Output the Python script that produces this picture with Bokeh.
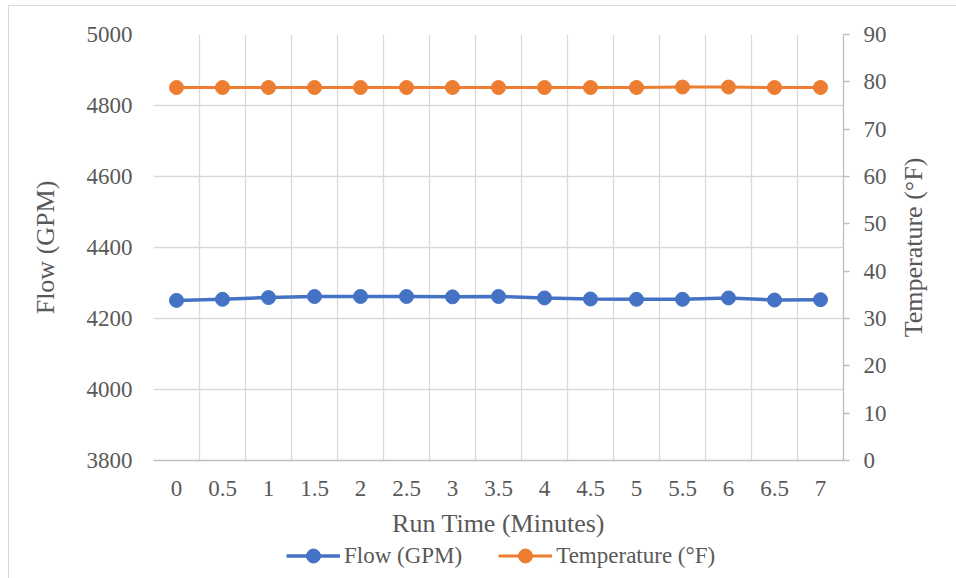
import math
from bokeh.plotting import figure
from bokeh.layouts import column
from bokeh.models import (Range1d, LinearAxis, FixedTicker, Legend, LegendItem,
                          NumeralTickFormatter, Label)
from bokeh.embed import file_html
from bokeh.resources import INLINE

# ---- data ----
run_time = [0, 0.5, 1, 1.5, 2, 2.5, 3, 3.5, 4, 4.5, 5, 5.5, 6, 6.5, 7]
flow_gpm = [4251, 4254, 4259, 4262, 4262, 4262, 4261, 4262, 4258, 4255, 4254, 4254, 4258, 4252, 4253]
temperature_f = [78.8, 78.8, 78.8, 78.8, 78.8, 78.8, 78.8, 78.8, 78.8, 78.8, 78.8, 78.9, 78.9, 78.8, 78.8]
flow_ticks = [3800, 4000, 4200, 4400, 4600, 4800, 5000]
temp_ticks = [0, 10, 20, 30, 40, 50, 60, 70, 80, 90]
series_names = ["Flow (GPM)", "Temperature (°F)"]

FONT = "Liberation Serif"
TXT = "#595959"
GRID = "#d9d9d9"
AXIS = "#bfbfbf"
BLUE = "#4472C4"
ORANGE = "#ED7D31"

step = run_time[1] - run_time[0]
x_lo = run_time[0] - step / 2
x_hi = run_time[-1] + step / 2

p = figure(frame_width=690, frame_height=426, output_backend="svg", toolbar_location=None,
           x_range=Range1d(x_lo, x_hi), y_range=Range1d(flow_ticks[0], flow_ticks[-1]),
           min_border_left=144, min_border_right=112, min_border_top=28, min_border_bottom=10)
p.outline_line_color = None
p.background_fill_color = "white"
p.border_fill_color = "white"
p.extra_y_ranges = {"temp": Range1d(temp_ticks[0], temp_ticks[-1])}

# grids
p.xgrid.ticker = FixedTicker(ticks=[x_lo + step * i for i in range(len(run_time) + 1)])
p.xgrid.grid_line_color = GRID
p.xgrid.grid_line_width = 1.3
p.ygrid.ticker = FixedTicker(ticks=flow_ticks)
p.ygrid.grid_line_color = GRID
p.ygrid.grid_line_width = 1.3

# x axis
xa = p.xaxis[0]
xa.ticker = FixedTicker(ticks=run_time)
xa.formatter = NumeralTickFormatter(format="0.[0]")
xa.axis_label = "Run Time (Minutes)"
xa.axis_line_color = AXIS
xa.axis_line_width = 1.3
xa.major_tick_line_color = None
xa.minor_tick_line_color = None
xa.major_label_standoff = 14
xa.axis_label_standoff = 10

# left axis
ya = p.yaxis[0]
ya.ticker = FixedTicker(ticks=flow_ticks)
ya.axis_label = "Flow (GPM)"
ya.axis_line_color = None
ya.major_tick_line_color = None
ya.minor_tick_line_color = None
ya.major_label_standoff = 15
ya.axis_label_standoff = 24

# right axis
ra = LinearAxis(y_range_name="temp", ticker=FixedTicker(ticks=temp_ticks))
ra.axis_line_color = AXIS
ra.axis_line_width = 1.3
ra.major_tick_line_color = AXIS
ra.major_tick_line_width = 1.3
ra.major_tick_out = 6
ra.major_tick_in = 0
ra.minor_tick_line_color = None
ra.major_label_standoff = 14
p.add_layout(ra, "right")

for ax in [xa, ya, ra]:
    ax.major_label_text_font = FONT
    ax.major_label_text_font_size = "23px"
    ax.major_label_text_color = TXT
    ax.axis_label_text_font = FONT
    ax.axis_label_text_font_size = "26px"
    ax.axis_label_text_color = TXT
    ax.axis_label_text_font_style = "normal"

right_title = Label(x=24, y=213, x_units="screen", y_units="screen", text="Temperature (°F)",
                    angle=math.pi / 2, text_align="center", text_baseline="middle",
                    text_font=FONT, text_font_size="26px", text_color=TXT)
p.add_layout(right_title, "right")

# series
l1 = p.line(run_time, flow_gpm, line_color=BLUE, line_width=3.5)
s1 = p.scatter(run_time, flow_gpm, size=14, fill_color=BLUE, line_color=BLUE)
l2 = p.line(run_time, temperature_f, line_color=ORANGE, line_width=3, y_range_name="temp")
s2 = p.scatter(run_time, temperature_f, size=14, fill_color=ORANGE, line_color=ORANGE,
               y_range_name="temp")

# legend strip (separate figure below the chart)
lf = figure(width=947, height=44, output_backend="svg", toolbar_location=None,
            x_range=Range1d(0, 1), y_range=Range1d(0, 1),
            min_border_left=0, min_border_right=0, min_border_top=0, min_border_bottom=0)
lf.axis.visible = False
lf.grid.visible = False
lf.outline_line_color = None
lf.border_fill_color = "white"
lg1 = lf.line(run_time, flow_gpm, line_color=BLUE, line_width=3.5, visible=False)
lm1 = lf.scatter(run_time, flow_gpm, size=14, fill_color=BLUE, line_color=BLUE, visible=False)
lg2 = lf.line(run_time, temperature_f, line_color=ORANGE, line_width=3, visible=False)
lm2 = lf.scatter(run_time, temperature_f, size=14, fill_color=ORANGE, line_color=ORANGE,
                 visible=False)

legend = Legend(items=[LegendItem(label=series_names[0], renderers=[lg1, lm1]),
                       LegendItem(label=series_names[1], renderers=[lg2, lm2])],
                orientation="horizontal", location=(133, 11))
legend.label_text_font = FONT
legend.label_text_font_size = "23px"
legend.label_text_color = TXT
legend.glyph_width = 54
legend.glyph_height = 35
legend.label_standoff = 4
legend.spacing = 36
legend.padding = 0
legend.margin = 0
legend.border_line_color = None
legend.background_fill_alpha = 0
legend.inactive_fill_alpha = 0
legend.click_policy = "none"
lf.add_layout(legend, "center")

layout = column(p, lf, spacing=0, margin=(5, 0, 0, 8),
                styles={"border-left": "1px solid #d9d9d9", "border-top": "1px solid #d9d9d9"})

open("out.html", "w").write(file_html(layout, INLINE))
